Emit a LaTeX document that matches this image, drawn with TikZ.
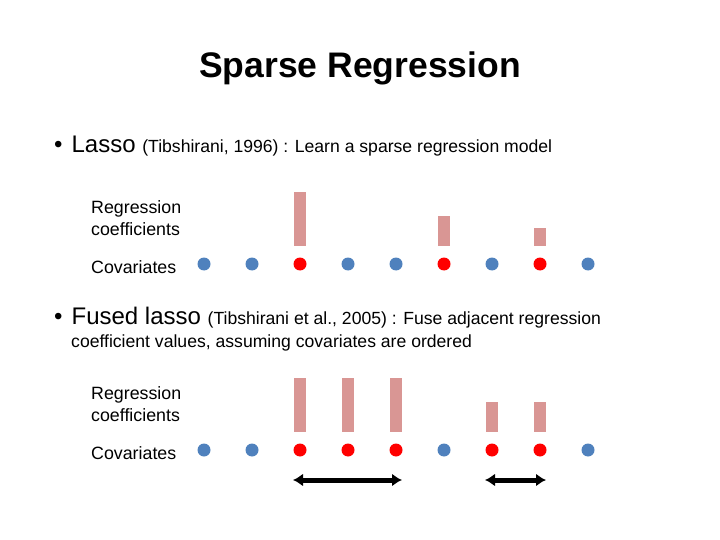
\documentclass[tikz,border=0pt]{standalone}
\usepackage{fontspec}
\setmainfont{Liberation Sans}
\usetikzlibrary{arrows.meta}
\definecolor{cblue}{RGB}{79,129,189}
\definecolor{cbar}{RGB}{217,150,148}
\tikzset{
  blue dot/.style={fill=cblue,draw=none,circle,minimum size=13pt,inner sep=0pt},
  red dot/.style={fill=red,draw=none,circle,minimum size=13pt,inner sep=0pt},
  lbl/.style={anchor=west,align=left,font=\fontsize{17.8}{22}\selectfont,inner sep=0pt},
  coef/.style={fill=cbar,draw=none},
  fuse/.style={line width=5pt,{Latex[length=10pt,width=13pt]}-{Latex[length=10pt,width=13pt]}}
}
\begin{document}
\begin{tikzpicture}[x=1pt,y=-1pt]
  \useasboundingbox (0,0) rectangle (720,540);
  \node (title) at (360,68) {\fontsize{35.5}{40}\selectfont\bfseries Sparse Regression};

  % lasso
  \node[lbl] (lasso) at (54,146) {\fontsize{24}{28}\selectfont\textbullet\hspace{9pt}Lasso \fontsize{17.6}{20}\selectfont(Tibshirani, 1996) : Learn a sparse regression model};
  \node[lbl] (rc1) at (91,218) {Regression\\coefficients};
  \node[lbl] (cv1) at (91,267) {Covariates};
  \foreach \i/\c in {1/blue,2/blue,3/red,4/blue,5/blue,6/red,7/blue,8/red,9/blue}
    \node[\c\space dot] (a\i) at ({156+48*\i},264) {};
  \fill[coef] (294,192) rectangle (306,246);
  \fill[coef] (438,216) rectangle (450,246);
  \fill[coef] (534,228) rectangle (546,246);

  % fused lasso
  \node[lbl] (fused) at (54,318) {\fontsize{24}{28}\selectfont\textbullet\hspace{9pt}Fused lasso \fontsize{17.6}{20}\selectfont(Tibshirani et al., 2005) : Fuse adjacent regression};
  \node[lbl] (fused2) at (71,343) {\fontsize{17.6}{20}\selectfont coefficient values, assuming covariates are ordered};
  \node[lbl] (rc2) at (91,404) {Regression\\coefficients};
  \node[lbl] (cv2) at (91,453) {Covariates};
  \foreach \i/\c in {1/blue,2/blue,3/red,4/red,5/red,6/blue,7/red,8/red,9/blue}
    \node[\c\space dot] (b\i) at ({156+48*\i},450) {};
  \foreach \x in {300,348,396}
    \fill[coef] ({\x-6},378) rectangle ({\x+6},432);
  \foreach \x in {492,540}
    \fill[coef] ({\x-6},402) rectangle ({\x+6},432);
  \coordinate (f1l) at (293,480); \coordinate (f1r) at (402,480);
  \coordinate (f2l) at (485,480); \coordinate (f2r) at (546,480);
  \draw[fuse] (f1l) -- (f1r);
  \draw[fuse] (f2l) -- (f2r);
\end{tikzpicture}
\end{document}
